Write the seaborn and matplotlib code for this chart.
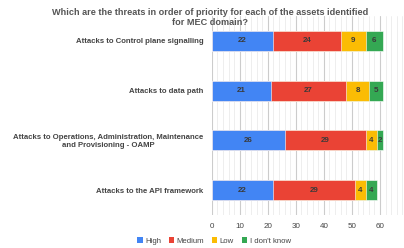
import numpy as np
import pandas as pd
import matplotlib
matplotlib.use("Agg")
import matplotlib.pyplot as plt
import seaborn as sns
from matplotlib.ticker import MultipleLocator
from matplotlib.patches import Patch

# Data
assets = [
    "Attacks to Control plane signalling",
    "Attacks to data path",
    "Attacks to Operations, Administration, Maintenance\nand Provisioning - OAMP",
    "Attacks to the API framework",
]
high = [22, 21, 26, 22]
medium = [24, 27, 29, 29]
low = [9, 8, 4, 4]
dont_know = [6, 5, 2, 4]

series = ["High", "Medium", "Low", "I don't know"]
colors = ["#4285F4", "#EA4335", "#FBBC04", "#34A853"]

df = pd.DataFrame({"asset": assets, "High": high, "Medium": medium,
                   "Low": low, "I don't know": dont_know})

sns.set_style("white")
plt.rcParams["font.family"] = ["Liberation Sans", "DejaVu Sans"]

fig = plt.figure(figsize=(4.04, 2.48), dpi=100)
ax = fig.add_axes([211.7 / 404, 33 / 248, (408 - 211.7) / 404, 199 / 248])

# stacked bars: draw cumulative totals from the largest down
cum = df[series].cumsum(axis=1)
for s, c in reversed(list(zip(series, colors))):
    sns.barplot(x=cum[s], y=df["asset"], color=c, saturation=1, orient="h", width=0.4,
                edgecolor="white", linewidth=0.4, ax=ax, zorder=3)

# value labels in the middle of each segment
for i in range(len(df)):
    start = 0
    for s in series:
        v = df.loc[i, s]
        ax.text(start + v / 2, i, str(v), ha="center", va="center",
                fontsize=5.8, fontweight="bold", color="#3a3a3a", zorder=4)
        start += v

ax.set_xlim(0, 70)
ax.set_ylim(3.5, -0.5)
ax.xaxis.set_major_locator(MultipleLocator(10))
ax.xaxis.set_minor_locator(MultipleLocator(2))
ax.grid(axis="x", which="major", color="#cccccc", linewidth=0.8, zorder=0)
ax.grid(axis="x", which="minor", color="#ebebeb", linewidth=0.6, zorder=0)
ax.grid(axis="y", visible=False)
for sp in ax.spines.values():
    sp.set_visible(False)
ax.set_xlabel("")
ax.set_ylabel("")
ax.tick_params(axis="x", which="both", length=0, labelsize=5.8, labelcolor="#444444", pad=6)
ax.tick_params(axis="y", length=0, labelsize=5.6, labelcolor="#444444", pad=6)
for lbl in ax.get_yticklabels():
    lbl.set_fontweight("bold")
    lbl.set_horizontalalignment("right")
    lbl.set_multialignment("center")

fig.text(0.52, 1 - 8 / 248, "Which are the threats in order of priority for each of the assets identified\nfor MEC domain?",
         ha="center", va="top", fontsize=6.6, fontweight="bold", color="#555555",
         linespacing=1.2)

handles = [Patch(facecolor=c, edgecolor="none", label=s) for s, c in zip(series, colors)]
fig.legend(handles=handles, loc="center", bbox_to_anchor=(214 / 404, 1 - 241 / 248),
           ncol=4, frameon=False, fontsize=5.6, handlelength=0.7, handleheight=0.7,
           handletextpad=0.3, columnspacing=1.0, labelcolor="#444444")

fig.savefig("out.png", dpi=100)
